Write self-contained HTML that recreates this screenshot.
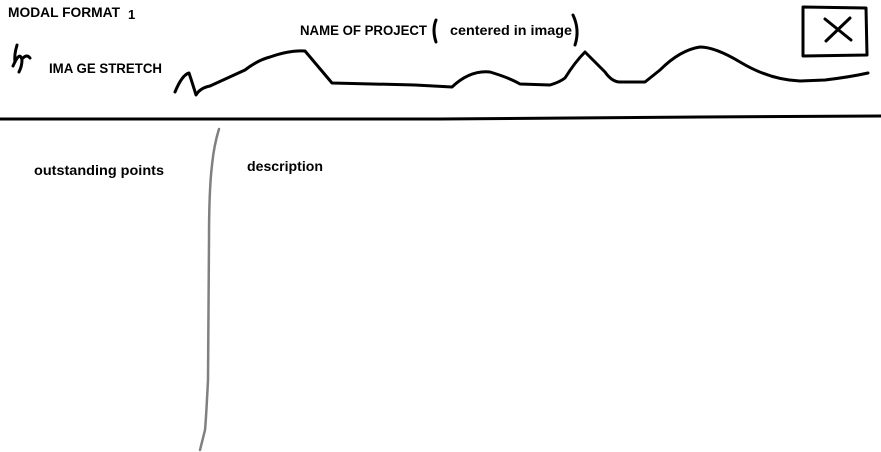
<!DOCTYPE html>
<html><head><meta charset="utf-8"><style>
html,body{margin:0;padding:0;background:#fff;}
svg{display:block}
text{font-family:"Liberation Sans",sans-serif;font-weight:bold;fill:#000;}
</style></head><body>
<svg width="881" height="452" viewBox="0 0 881 452" xmlns="http://www.w3.org/2000/svg">
<g fill="none" stroke="#000" stroke-width="3" stroke-linecap="round" stroke-linejoin="round">
<path d="M175,92 Q182,75 189,73 Q193,85 196,95 Q200,88 210,86 L245,70 Q258,60 270,57 Q290,50 305,51 L332,83 L415,85 L452,87 Q470,70 490,72 Q510,78 520,84 L550,85 Q560,82 565,78 Q575,62 585,52 L605,72 Q612,82 620,82 L645,82 L660,70 Q680,50 700,47 Q715,47 740,62 Q770,80 800,81 L825,80 Q850,77 868,73"/>
<path d="M0,119 L440,119 L700,117 L881,116"/>
<path d="M803,7 L866,8 L867,55 L803,56 Z"/>
<path d="M825,19 L851,40 M850,18 L826,41"/>
<path d="M436,20 Q432,30 436,42"/>
<path d="M573,15 Q580,30 575,45"/>
<path d="M17,45 Q14,55 15,62 M13,66 Q20,50 22,60 Q22,66 19,72 M23,58 Q27,54 30,58"/>
</g>
<path d="M219,129 Q214,145 212,165 Q209,190 209,240 L208,380 Q206,420 205,430 L200,450" fill="none" stroke="#808080" stroke-width="2.5" stroke-linecap="round"/>
<text x="8" y="17" font-size="13.5" textLength="112" lengthAdjust="spacingAndGlyphs">MODAL FORMAT</text>
<text x="128" y="19" font-size="13">1</text>
<text x="300" y="35" font-size="13.5" textLength="127" lengthAdjust="spacingAndGlyphs">NAME OF PROJECT</text>
<text x="450" y="35" font-size="13.5" textLength="122" lengthAdjust="spacingAndGlyphs">centered in image</text>
<text x="49" y="73" font-size="13.5" textLength="113" lengthAdjust="spacingAndGlyphs">IMA GE STRETCH</text>
<text x="34" y="175" font-size="13.5" textLength="130" lengthAdjust="spacingAndGlyphs">outstanding points</text>
<text x="247" y="171" font-size="13.5" textLength="76" lengthAdjust="spacingAndGlyphs">description</text>
</svg>
</body></html>
